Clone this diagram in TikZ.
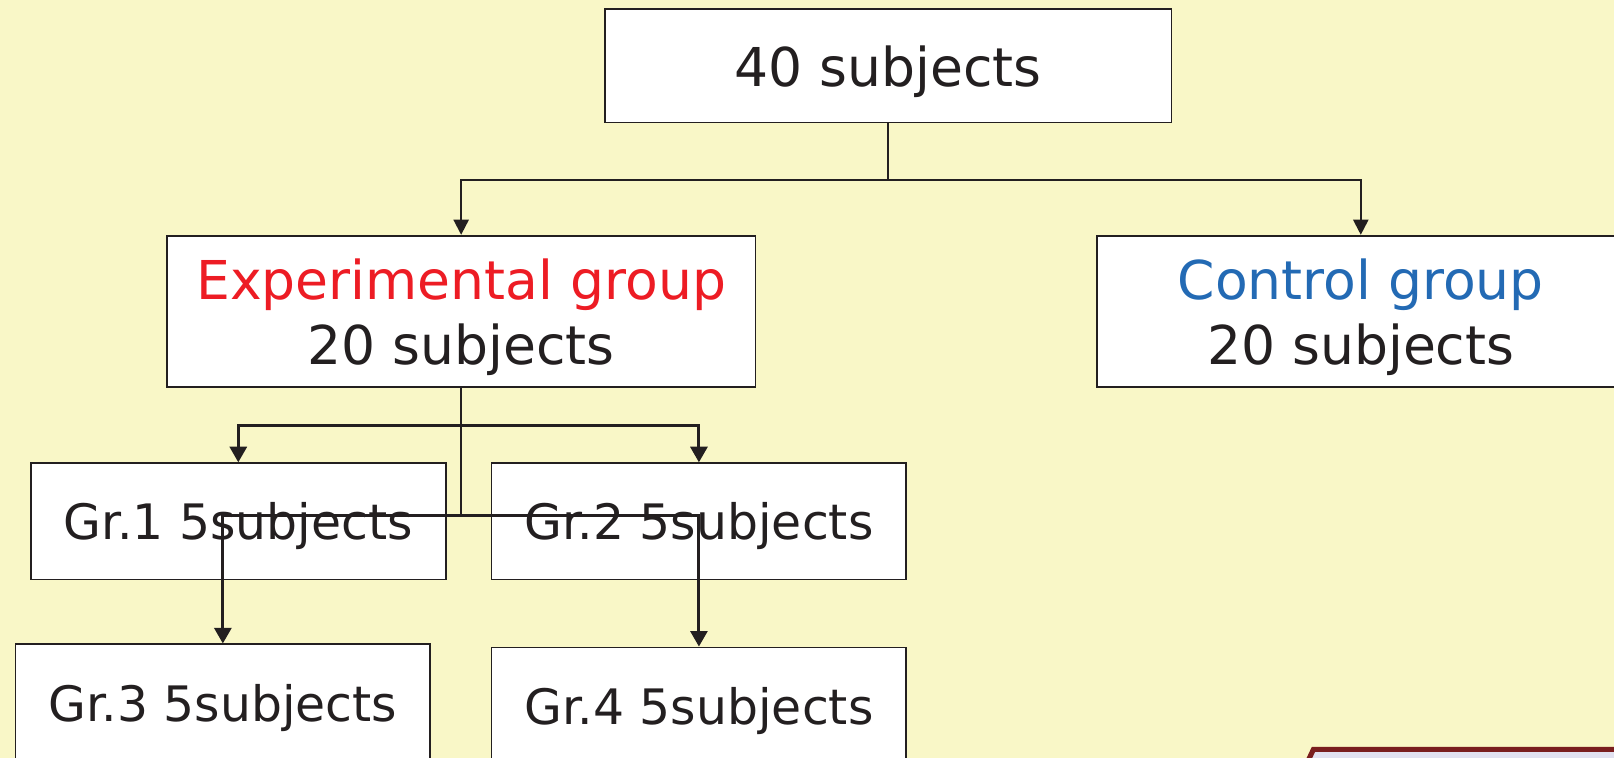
\documentclass[tikz,border=0pt]{standalone}
\usepackage{fontspec}
\setmainfont{DejaVu Sans}
\usepackage{tikz}
\usetikzlibrary{positioning}
\usetikzlibrary{arrows.meta}
\definecolor{bgcol}{HTML}{F9F7C7}
\definecolor{inkcol}{HTML}{231F20}
\definecolor{expcol}{HTML}{ED1C24}
\definecolor{ctrlcol}{HTML}{236AB4}
\definecolor{framecol}{HTML}{7A1E1E}
\definecolor{panelcol}{HTML}{E1E1F0}
\tikzset{>={Triangle[length=4.2pt,width=4.2pt]}}
\tikzset{
  box/.style={draw=inkcol, line width=0.5pt, fill=white, text=inkcol,
    inner sep=0pt, align=center, text depth=-0.4pt,
    font=\fontsize{14.8}{17.9}\selectfont},
  grbox/.style={box, minimum width=4.03cm, minimum height=1.13cm,
    font=\fontsize{13.5}{16}\selectfont},
  link/.style={draw=inkcol, line width=0.55pt},
  grlink/.style={draw=inkcol, line width=0.8pt,
    >={Triangle[length=4.3pt,width=4.7pt]}}
}

\begin{document}
\begin{tikzpicture}

% Page
\useasboundingbox (0,0) rectangle (15.68,-7.36);
\fill[bgcol] (0,0) rectangle (15.68,-7.36);
\clip (0,0) rectangle (15.68,-7.36);

% All subjects
\node[box, minimum width=5.50cm, minimum height=1.10cm] (all) at (8.63,-0.64) {40 subjects};

% Two groups
\node[box, minimum width=5.72cm, minimum height=1.47cm] (exp) at (4.48,-3.025)
  {\textcolor{expcol}{Experimental group}\\20 subjects};
\node[box, minimum width=5.12cm, minimum height=1.47cm] (ctrl) at (13.22,-3.025)
  {\textcolor{ctrlcol}{Control group}\\20 subjects};

% Sub groups
\node[grbox] (gr1) at (2.315,-5.065) {Gr.1 5subjects};
\node[grbox] (gr2) at (6.79,-5.065) {Gr.2 5subjects};
\node[grbox] (gr3) at (2.165,-6.825) {Gr.3 5subjects};
\node[grbox] (gr4) at (6.79,-6.855) {Gr.4 5subjects};

% Split into two groups
\coordinate (split) at (8.63,-1.75);
\draw[link] (all.south) -- (split);
\draw[link,->] (split) -| (exp.north);
\draw[link,->] (split) -| (ctrl.north);

% Split of the experimental group
\coordinate (upper) at (4.48,-4.13);
\coordinate (lower) at (4.48,-5.01);
\draw[link] (exp.south) -- (lower);
\draw[grlink,->] (upper) -| (gr1.north);
\draw[grlink,->] (upper) -| (gr2.north);
\draw[grlink,->] (lower) -| (gr3.north);
\draw[grlink,->] (lower) -| (gr4.north);

% Panel corner
\draw[framecol, line width=1.4pt, fill=panelcol]
  (12.68,-7.45) -- (12.76,-7.28) -- (15.8,-7.28) -- (15.8,-7.45) -- cycle;

\end{tikzpicture}
\end{document}
